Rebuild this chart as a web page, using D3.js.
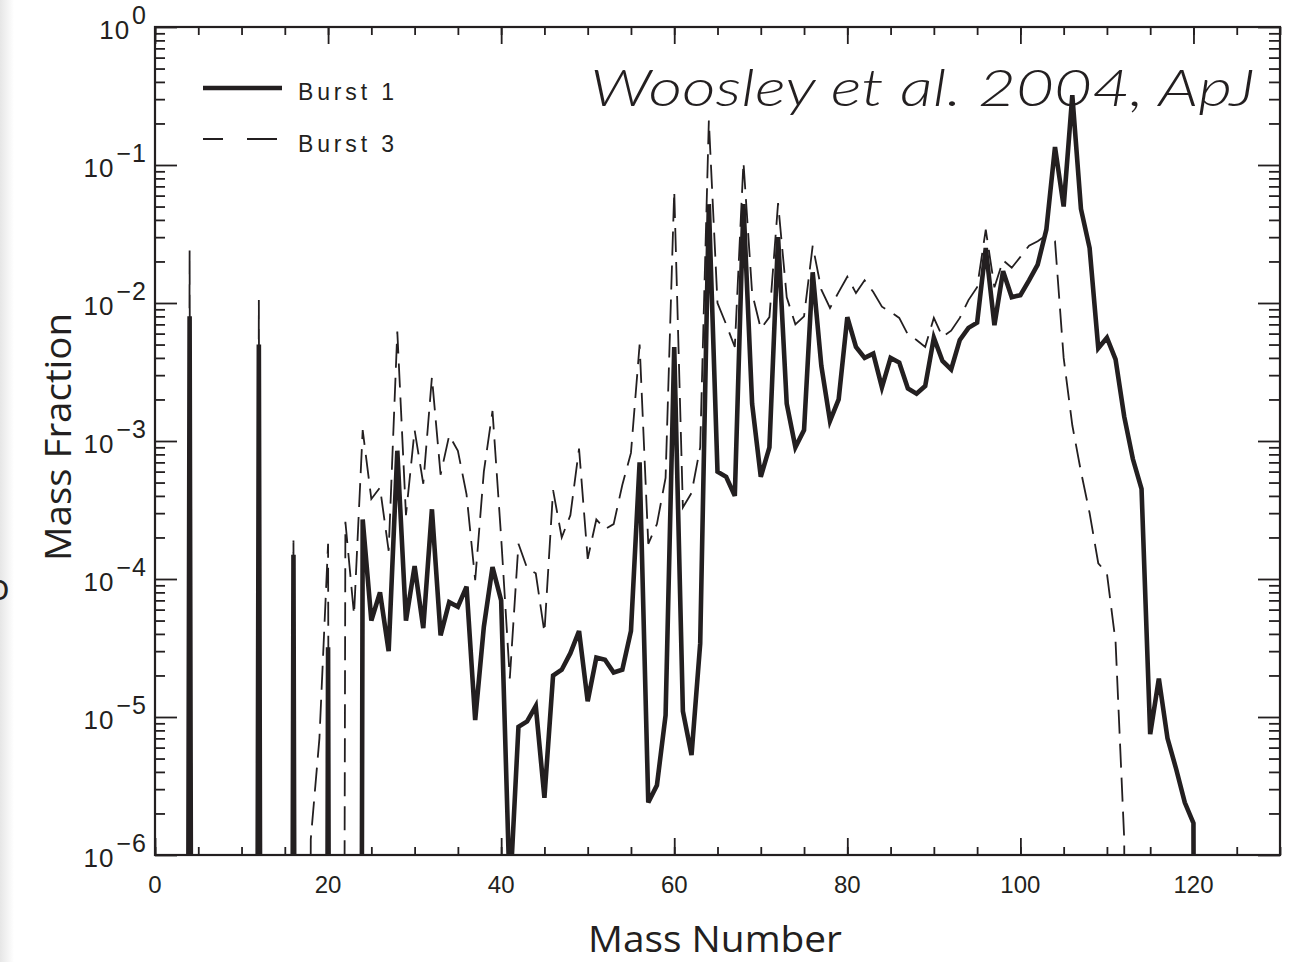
<!doctype html>
<html>
<head>
<meta charset="utf-8">
<style>
  body { margin: 0; background: #fff; }
  svg text { fill: #231f20; }
</style>
</head>
<body>
<svg id="chart" width="1305" height="962"></svg>
<script src="https://d3js.org/d3.v7.min.js"></script>
<script>
// mass numbers A = 1..125, one value per A (0 = below the 1e-6 floor)
var massNumber = d3.range(1, 126);

var burst1 = [
  0, 0, 0, 8e-3, 0, 0, 0, 0, 0, 0,                                  // 1-10
  0, 5e-3, 0, 0, 0, 1.5e-4, 0, 0, 0, 3.2e-5,                        // 11-20
  0, 0, 0, 2.7e-4, 5e-5, 8e-5, 3e-5, 8.5e-4, 5e-5, 1.24e-4,         // 21-30
  4.4e-5, 3.2e-4, 3.9e-5, 6.8e-5, 6.3e-5, 8.8e-5, 9.5e-6, 4.5e-5, 1.22e-4, 7e-5, // 31-40
  5e-7, 8.5e-6, 9.3e-6, 1.2e-5, 2.6e-6, 2e-5, 2.2e-5, 2.9e-5, 4.2e-5, 1.3e-5,    // 41-50
  2.7e-5, 2.6e-5, 2.1e-5, 2.2e-5, 4.2e-5, 7e-4, 2.4e-6, 3.2e-6, 1.03e-5, 4.8e-3, // 51-60
  1.1e-5, 5.3e-6, 3.4e-5, 0.052, 6e-4, 5.5e-4, 4e-4, 0.052, 1.86e-3, 5.5e-4,     // 61-70
  9e-4, 0.03, 1.86e-3, 9e-4, 1.2e-3, 0.0167, 3.5e-3, 1.4e-3, 2e-3, 7.9e-3,       // 71-80
  4.8e-3, 4e-3, 4.3e-3, 2.45e-3, 4e-3, 3.7e-3, 2.4e-3, 2.2e-3, 2.5e-3, 5.6e-3,   // 81-90
  3.8e-3, 3.3e-3, 5.4e-3, 6.6e-3, 7.2e-3, 0.025, 6.9e-3, 0.017, 0.011, 0.0114,   // 91-100
  0.0146, 0.019, 0.034, 0.135, 0.05, 0.32, 0.048, 0.025, 4.7e-3, 5.6e-3,         // 101-110
  3.9e-3, 1.5e-3, 7.4e-4, 4.5e-4, 7.5e-6, 1.9e-5, 7e-6, 4.2e-6, 2.4e-6, 1.7e-6,  // 111-120
  0, 0, 0, 0, 0                                                     // 121-125
];

var burst3 = [
  0, 0, 0, 0.024, 0, 0, 0, 0, 0, 0,                                 // 1-10
  0, 0.0105, 0, 0, 0, 1.9e-4, 0, 1.3e-6, 7e-6, 1.8e-4,              // 11-20
  0, 2.6e-4, 5.5e-5, 1.2e-3, 3.8e-4, 4.6e-4, 1.6e-4, 6.2e-3, 2.9e-4, 1.2e-3,     // 21-30
  4.9e-4, 2.9e-3, 5.7e-4, 1.1e-3, 8.5e-4, 4.1e-4, 9.8e-5, 6e-4, 1.65e-3, 2e-4,   // 31-40
  1.9e-5, 1.8e-4, 1.2e-4, 1.1e-4, 4.1e-5, 4.4e-4, 2e-4, 2.9e-4, 8.8e-4, 1.4e-4,  // 41-50
  2.7e-4, 2.3e-4, 2.5e-4, 4.8e-4, 8.2e-4, 5e-3, 1.8e-4, 2.5e-4, 5.4e-4, 0.065,   // 51-60
  3.3e-4, 4.2e-4, 9e-4, 0.21, 0.01, 7e-3, 4.8e-3, 0.105, 0.0118, 6.5e-3,         // 61-70
  7.9e-3, 0.053, 0.011, 7e-3, 8e-3, 0.026, 0.0125, 9.2e-3, 0.012, 0.0155,        // 71-80
  0.0118, 0.0146, 0.012, 9.4e-3, 8.6e-3, 7.8e-3, 5.9e-3, 5.4e-3, 4.8e-3, 7.8e-3, // 81-90
  5.7e-3, 6.3e-3, 7.8e-3, 0.0105, 0.013, 0.034, 0.013, 0.0204, 0.018, 0.0216,    // 91-100
  0.026, 0.028, 0.031, 0.028, 4e-3, 1.3e-3, 6e-4, 3e-4, 1.3e-4, 1.1e-4,          // 101-110
  3.5e-5, 1.3e-6, 0, 0, 0, 0, 0, 0, 0, 0,                           // 111-120
  0, 0, 0, 0, 0                                                     // 121-125
];

var seriesNames = ["Burst  1", "Burst  3"];
var xMajorTicks = [0, 20, 40, 60, 80, 100, 120];
var xMinorTicks = d3.range(0, 131, 5);
var yDecades = [-6, -5, -4, -3, -2, -1, 0];
var yMinorMult = [2, 3, 4, 5, 6, 7, 8, 9];
var citation = "Woosley et al. 2004, ApJ";

var ink = "#231f20";
var L = 155, R = 1280, T = 27, B = 855;
var floorVal = 1e-30;

var svg = d3.select("#chart");

// faint page edge at far left
var grad = svg.append("defs").append("linearGradient").attr("id", "edge");
grad.append("stop").attr("offset", "0").attr("stop-color", "#e6e6e6");
grad.append("stop").attr("offset", "1").attr("stop-color", "#ffffff");
svg.append("rect").attr("x", 0).attr("y", 0).attr("width", 14).attr("height", 962).attr("fill", "url(#edge)");
svg.append("text").attr("x", -12).attr("y", 600).attr("font-family", "Open Sans").attr("font-size", 36).text("o");

var x = d3.scaleLinear().domain([0, 130]).range([L, R]);
var y = d3.scaleLog().domain([1e-6, 1]).range([B, T]);

var yMajor = yDecades.map(function(e) { return Math.pow(10, e); });
var yMinor = [];
yDecades.slice(0, -1).forEach(function(e) {
  yMinorMult.forEach(function(m) { yMinor.push(m * Math.pow(10, e)); });
});

function styleAxis(g) {
  g.select(".domain").remove();
  g.selectAll("line").attr("stroke", ink).attr("stroke-width", 1.8);
}

// bottom (ticks up) and top (ticks down)
svg.append("g").attr("transform", "translate(0," + B + ")")
  .call(d3.axisTop(x).tickValues(xMinorTicks).tickSize(8).tickFormat("")).call(styleAxis);
svg.append("g").attr("transform", "translate(0," + B + ")")
  .call(d3.axisTop(x).tickValues(xMajorTicks).tickSize(17).tickFormat("")).call(styleAxis);
svg.append("g").attr("transform", "translate(0," + T + ")")
  .call(d3.axisBottom(x).tickValues(xMinorTicks).tickSize(8).tickFormat("")).call(styleAxis);
svg.append("g").attr("transform", "translate(0," + T + ")")
  .call(d3.axisBottom(x).tickValues(xMajorTicks).tickSize(17).tickFormat("")).call(styleAxis);

// left (ticks right) and right (ticks left)
svg.append("g").attr("transform", "translate(" + L + ",0)")
  .call(d3.axisRight(y).tickValues(yMinor).tickSize(10).tickFormat("")).call(styleAxis);
svg.append("g").attr("transform", "translate(" + L + ",0)")
  .call(d3.axisRight(y).tickValues(yMajor).tickSize(22).tickFormat("")).call(styleAxis);
svg.append("g").attr("transform", "translate(" + R + ",0)")
  .call(d3.axisLeft(y).tickValues(yMinor).tickSize(11).tickFormat("")).call(styleAxis);
svg.append("g").attr("transform", "translate(" + R + ",0)")
  .call(d3.axisLeft(y).tickValues(yMajor).tickSize(22).tickFormat("")).call(styleAxis);

// tick labels
svg.append("g").selectAll("text").data(xMajorTicks).enter().append("text")
  .attr("x", function(d) { return x(d); })
  .attr("y", 893)
  .attr("text-anchor", "middle")
  .attr("font-family", "Liberation Sans, Arial, sans-serif")
  .attr("font-size", 24)
  .text(function(d) { return d; });

var ylab = svg.append("g").selectAll("text").data(yDecades).enter().append("text")
  .attr("x", 147)
  .attr("y", function(d) { return y(Math.pow(10, d)) + 12; })
  .attr("text-anchor", "end")
  .attr("font-family", "Liberation Sans, Arial, sans-serif")
  .attr("font-size", 26)
  .attr("letter-spacing", 1);
ylab.append("tspan").text("10");
ylab.append("tspan").attr("dy", -15).attr("dx", 2).attr("font-size", 25)
  .text(function(d) { return d === 0 ? "0" : "\u2212" + Math.abs(d); });

// axis titles
svg.append("text")
  .attr("x", 715).attr("y", 952)
  .attr("text-anchor", "middle")
  .attr("font-family", "Open Sans, sans-serif")
  .attr("font-size", 37)
  .attr("textLength", 254).attr("lengthAdjust", "spacingAndGlyphs")
  .text("Mass Number");

svg.append("text")
  .attr("transform", "translate(71,437) rotate(-90)")
  .attr("text-anchor", "middle")
  .attr("font-family", "Open Sans, sans-serif")
  .attr("font-size", 37)
  .attr("textLength", 248).attr("lengthAdjust", "spacingAndGlyphs")
  .text("Mass Fraction");

// data lines
svg.append("clipPath").attr("id", "plotclip").append("rect")
  .attr("x", L).attr("y", T).attr("width", R - L).attr("height", B - T);

function toPoints(vals) {
  return massNumber.map(function(a, i) { return { a: a, v: vals[i] }; });
}
var line = d3.line()
  .x(function(d) { return x(d.a); })
  .y(function(d) { return y(Math.max(d.v, floorVal)); });

var plot = svg.append("g").attr("clip-path", "url(#plotclip)");
plot.append("path")
  .datum(toPoints(burst3))
  .attr("d", line)
  .attr("fill", "none")
  .attr("stroke", ink)
  .attr("stroke-width", 1.8)
  .attr("stroke-dasharray", "24,10");
plot.append("path")
  .datum(toPoints(burst1))
  .attr("d", line)
  .attr("fill", "none")
  .attr("stroke", ink)
  .attr("stroke-width", 4.6)
  .attr("stroke-linejoin", "miter");

// frame
svg.append("rect")
  .attr("x", L).attr("y", T).attr("width", R - L).attr("height", B - T)
  .attr("fill", "none").attr("stroke", ink).attr("stroke-width", 2.2);

// legend
var leg = svg.append("g");
leg.append("line").attr("x1", 203).attr("x2", 282).attr("y1", 88).attr("y2", 88)
  .attr("stroke", ink).attr("stroke-width", 4.5);
leg.append("line").attr("x1", 203).attr("x2", 277).attr("y1", 139).attr("y2", 139)
  .attr("stroke", ink).attr("stroke-width", 1.8).attr("stroke-dasharray", "20,24,30");
leg.selectAll("text").data(seriesNames).enter().append("text")
  .attr("x", 298)
  .attr("y", function(d, i) { return 100 + i * 52; })
  .attr("font-family", "Liberation Sans, Arial, sans-serif")
  .attr("font-size", 23)
  .attr("textLength", 96).attr("lengthAdjust", "spacing")
  .text(function(d) { return d; });

// citation
svg.append("text")
  .attr("x", 590).attr("y", 106)
  .attr("font-family", "Lato, sans-serif")
  .attr("font-style", "italic")
  .attr("font-weight", 300)
  .attr("font-size", 52)
  .attr("textLength", 665).attr("lengthAdjust", "spacingAndGlyphs")
  .text(citation);
</script>
</body>
</html>
